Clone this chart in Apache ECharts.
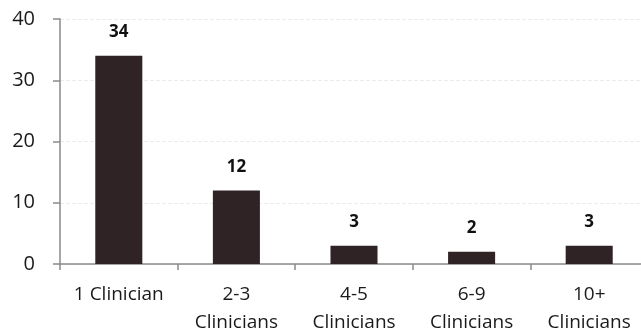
<!DOCTYPE html>
<html>
<head>
<meta charset="utf-8">
<script src="https://cdn.jsdelivr.net/npm/echarts@6/dist/echarts.min.js"></script>
<style>
  html, body { margin: 0; padding: 0; background: #fff; }
  #chart { width: 641px; height: 332px; }
</style>
</head>
<body>
<div id="chart"></div>
<script>
// Practice size groups and number of practices in each
const categories = ['1 Clinician', '2-3\nClinicians', '4-5\nClinicians', '6-9\nClinicians', '10+\nClinicians'];
const counts = [34, 12, 3, 2, 3];
const yTicks = { min: 0, max: 40, interval: 10 };

const chart = echarts.init(document.getElementById('chart'));
chart.setOption({
  animation: false,
  backgroundColor: '#ffffff',
  grid: {
    left: 60, top: 19, width: 588, height: 245,
    containLabel: false, outerBoundsMode: 'none'
  },
  xAxis: {
    type: 'category',
    data: categories,
    axisLine: { lineStyle: { color: '#8a8a8a', width: 1.5 } },
    axisTick: { show: true, length: 6, lineStyle: { color: '#8a8a8a', width: 1.5 } },
    axisLabel: {
      color: '#1a1a1a', fontFamily: 'Open Sans', fontSize: 19,
      lineHeight: 28, margin: 17, interval: 0
    }
  },
  yAxis: {
    type: 'value',
    min: yTicks.min, max: yTicks.max, interval: yTicks.interval,
    axisLine: { show: true, lineStyle: { color: '#8a8a8a', width: 1.5 } },
    axisTick: { show: true, length: 7, lineStyle: { color: '#8a8a8a', width: 1.5 } },
    axisLabel: { color: '#1a1a1a', fontFamily: 'Open Sans', fontSize: 20, margin: 25 },
    splitLine: { show: true, lineStyle: { color: '#ececec', width: 1, type: 'dashed' } }
  },
  series: [{
    type: 'bar',
    data: counts,
    barWidth: '40%',
    itemStyle: { color: '#2f2326' },
    label: {
      show: true, position: 'top', distance: 15,
      color: '#111', fontFamily: 'Open Sans', fontWeight: 'bold', fontSize: 17
    }
  }]
});
</script>
</body>
</html>
